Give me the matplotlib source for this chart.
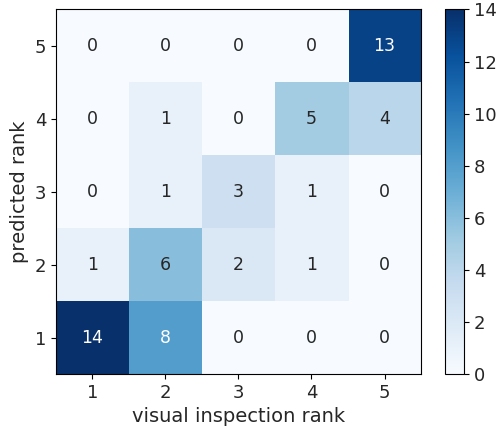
import matplotlib
matplotlib.use("Agg")
import matplotlib.pyplot as plt
import numpy as np

ranks = [1, 2, 3, 4, 5]
# rows: predicted rank 1..5 ; columns: visual inspection rank 1..5
counts = [
    [14, 8, 0, 0, 0],
    [1, 6, 2, 1, 0],
    [0, 1, 3, 1, 0],
    [0, 1, 0, 5, 4],
    [0, 0, 0, 0, 13],
]
cbar_ticks = [0, 2, 4, 6, 8, 10, 12, 14]

txt = "#262626"
plt.rcParams["text.color"] = txt
plt.rcParams["axes.labelcolor"] = txt
plt.rcParams["xtick.labelcolor"] = txt
plt.rcParams["ytick.labelcolor"] = txt

data = np.array(counts)
fig = plt.figure(figsize=(4.98, 4.29), dpi=100)
ax = fig.add_axes([0.1124, 0.128, 0.733, 0.850])
cax = fig.add_axes([0.8936, 0.128, 0.038, 0.850])

im = ax.imshow(data, cmap="Blues", vmin=0, vmax=14, origin="lower", aspect="auto")
for i in range(data.shape[0]):
    for j in range(data.shape[1]):
        v = data[i, j]
        ax.text(j, i, str(v), ha="center", va="center", fontsize=12.5,
                color="white" if v > 7 else txt)

ax.set_xticks(range(len(ranks)))
ax.set_xticklabels([str(r) for r in ranks], fontsize=13)
ax.set_yticks(range(len(ranks)))
ax.set_yticklabels([str(r) for r in ranks], fontsize=13)
ax.set_xlabel("visual inspection rank", fontsize=14)
ax.set_ylabel("predicted rank", fontsize=14)

cb = fig.colorbar(im, cax=cax, ticks=cbar_ticks)
cb.ax.tick_params(labelsize=13)

fig.savefig("out.png", dpi=100)
